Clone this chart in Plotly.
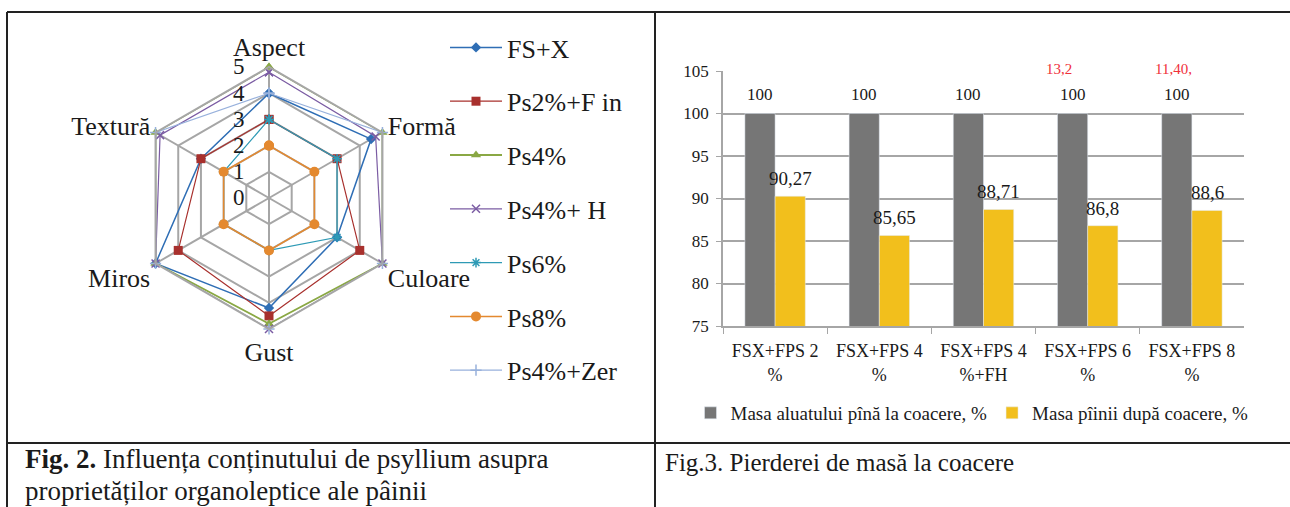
import plotly.graph_objects as go

# ---------------- Data: radar (Fig. 2) ----------------
criteria = ['Aspect', 'Formă', 'Culoare', 'Gust', 'Miros', 'Textură']
series_names = ['FS+X', 'Ps2%+F in', 'Ps4%', 'Ps4%+ H', 'Ps6%', 'Ps8%', 'Ps4%+Zer']
fs_x = [4, 4.5, 3, 4.2, 5, 3]
ps2_fin = [3, 3, 4, 4.5, 4, 3]
ps4 = [5, 5, 5, 4.8, 5, 5]
ps4_h = [4.8, 4.7, 5, 5, 5, 4.8]
ps6 = [3, 3, 3, 2, 2, 2]
ps8 = [2, 2, 2, 2, 2, 2]
ps4_zer = [4, 5, 5, 5, 5, 5]
radar_ticks = [0, 1, 2, 3, 4, 5]

# ---------------- Data: bars (Fig. 3) ----------------
variants = ['FSX+FPS 2<br>%', 'FSX+FPS 4<br>%', 'FSX+FPS 4<br>%+FH',
            'FSX+FPS 6<br>%', 'FSX+FPS 8<br>%']
dough_mass = [100, 100, 100, 100, 100]
bread_mass = [90.27, 85.65, 88.71, 86.8, 88.6]
dough_labels = ['100', '100', '100', '100', '100']
bread_labels = ['90,27', '85,65', '88,71', '86,8', '88,6']
loss_variants = ['FSX+FPS 6<br>%', 'FSX+FPS 8<br>%']
loss_labels = ['13,2', '11,40,']
bar_names = ['Masa aluatului pînă la coacere, %', 'Masa pîinii după coacere, %']

# style only (label offsets in px)
loss_xshift = [-29, -18]

W, H = 1290, 507
SERIF = 'Liberation Serif, Times New Roman, serif'
TXT = '#1a1a1a'

fig = go.Figure()

styles = [
    dict(color='#2F6EB5', symbol='diamond', size=8, width=1.5),
    dict(color='#A8302D', symbol='square', size=9, width=1.2),
    dict(color='#8AA844', symbol='triangle-up', size=9, width=1.8),
    dict(color='#7B5CA3', symbol='x-thin', size=8, width=1.2),
    dict(color='#2E9AB5', symbol='asterisk', size=8, width=1.2),
    dict(color='#E4892F', symbol='circle', size=10, width=1.5),
    dict(color='#98B1DC', symbol='cross-thin', size=8, width=1.2),
]
values = [fs_x, ps2_fin, ps4, ps4_h, ps6, ps8, ps4_zer]

for name, vals, st in zip(series_names, values, styles):
    thin = st['symbol'].endswith('-thin') or st['symbol'] == 'asterisk'
    fig.add_trace(go.Scatterpolar(
        r=vals + vals[:1], theta=criteria + criteria[:1],
        mode='lines+markers', name=name, legend='legend',
        legendgroup=name,
        line=dict(color=st['color'], width=st['width']),
        marker=dict(symbol=st['symbol'] + ('-open' if st['symbol'] == 'asterisk' else ''),
                    size=st['size'], color=st['color'],
                    line=dict(color=st['color'], width=1.5 if thin else 0)),
        subplot='polar'))

# bars
fig.add_trace(go.Bar(x=variants, y=dough_mass, name=bar_names[0], legend='legend2',
                     marker_color='#767676'))
fig.add_trace(go.Bar(x=variants, y=bread_mass, name=bar_names[1], legend='legend2',
                     marker_color='#F2BF1C'))

grid = '#a6a6a6'
R = 131
CX, CY = 269, 198
BARGAP = 0.42
fig.update_layout(
    width=W, height=H, autosize=False, margin=dict(l=0, r=0, t=0, b=0, pad=0),
    paper_bgcolor='white', plot_bgcolor='white',
    font=dict(family=SERIF, color=TXT),
    polar=dict(
        domain=dict(x=[(CX - R) / W, (CX + R) / W], y=[(H - CY - R) / H, (H - CY + R) / H]),
        gridshape='linear', bgcolor='white',
        radialaxis=dict(range=[0, 5], tickvals=radar_ticks, angle=90, tickangle=90,
                        showline=False, gridcolor=grid, gridwidth=2,
                        ticks='outside', ticklen=16, tickcolor='rgba(0,0,0,0)',
                        side='counterclockwise',
                        tickfont=dict(family=SERIF, size=23, color=TXT)),
        angularaxis=dict(rotation=90, direction='clockwise', gridcolor=grid, gridwidth=2,
                         showline=True, linecolor=grid, linewidth=2, ticks='',
                         tickfont=dict(family=SERIF, size=26, color=TXT)),
    ),
    legend=dict(x=445 / W, y=(H - 24) / H, xanchor='left', yanchor='top',
                font=dict(family=SERIF, size=26, color=TXT), itemwidth=52,
                traceorder='grouped', tracegroupgap=17, bgcolor='rgba(0,0,0,0)'),
    legend2=dict(orientation='h', x=972 / W, y=(H - 413) / H, xanchor='center',
                 yanchor='middle',
                 font=dict(family=SERIF, size=19, color=TXT),
                 itemwidth=30, bgcolor='rgba(0,0,0,0)'),
    barmode='group', bargap=BARGAP, bargroupgap=0,
    xaxis=dict(domain=[723 / W, 1244 / W], showline=True, linecolor=grid, linewidth=1.5,
               ticks='outside', tickson='boundaries', ticklen=6, tickcolor=grid,
               ticklabelstandoff=8, automargin=False, tickangle=0,
               tickfont=dict(family=SERIF, size=18, color=TXT), showgrid=False),
    yaxis=dict(domain=[(H - 326) / H, (H - 71) / H], range=[75, 105], dtick=5,
               showline=True, linecolor=grid, linewidth=1.5, ticks='outside', ticklen=5,
               tickcolor=grid, gridcolor=grid, gridwidth=1.5, zeroline=False,
               ticklabelstandoff=4, automargin=False,
               tickfont=dict(family=SERIF, size=17, color=TXT)),
    showlegend=True,
)

# bar value labels, anchored to each bar's top through the axes
cat_px = (1244 - 723) / len(variants)
half_bar = cat_px * (1 - BARGAP) / 4
for v, val, t in zip(variants, dough_mass, dough_labels):
    fig.add_annotation(x=v, y=val, xref='x', yref='y', text=t, showarrow=False,
                       xshift=-half_bar, yanchor='bottom', yshift=8,
                       font=dict(family=SERIF, size=17, color=TXT))
for v, val, t in zip(variants, bread_mass, bread_labels):
    fig.add_annotation(x=v, y=val, xref='x', yref='y', text=t, showarrow=False,
                       xshift=half_bar, yanchor='bottom', yshift=5,
                       font=dict(family=SERIF, size=19, color=TXT))

# red loss labels
for v, t, dx in zip(loss_variants, loss_labels, loss_xshift):
    fig.add_annotation(x=v, y=105, xref='x', yref='y', text=t, showarrow=False,
                       xshift=dx, yshift=2,
                       font=dict(family=SERIF, size=15, color='#F0303A'))

# table borders
line = dict(color='#222222', width=2)
def hline(y, x0, x1):
    fig.add_shape(type='line', xref='paper', yref='paper', x0=x0 / W, x1=x1 / W,
                  y0=(H - y) / H, y1=(H - y) / H, line=line)
def vline(x, y0, y1):
    fig.add_shape(type='line', xref='paper', yref='paper', x0=x / W, x1=x / W,
                  y0=(H - y0) / H, y1=(H - y1) / H, line=line)
hline(12, 7, 1290)
hline(443, 7, 1290)
vline(7, 12, 507)
vline(655, 12, 507)

# captions
cap = dict(xref='paper', yref='paper', xanchor='left', yanchor='middle',
           showarrow=False, align='left')
fig.add_annotation(x=23 / W, y=(H - 459) / H,
                   text='<b>Fig. 2.</b> Influența conținutului de psyllium asupra',
                   font=dict(family=SERIF, size=27, color=TXT), **cap)
fig.add_annotation(x=23 / W, y=(H - 491) / H,
                   text='proprietăților organoleptice ale pâinii',
                   font=dict(family=SERIF, size=27, color=TXT), **cap)
fig.add_annotation(x=663 / W, y=(H - 462) / H,
                   text='Fig.3. Pierderei de masă la coacere',
                   font=dict(family=SERIF, size=25, color=TXT), **cap)

fig.write_html('out.html')
